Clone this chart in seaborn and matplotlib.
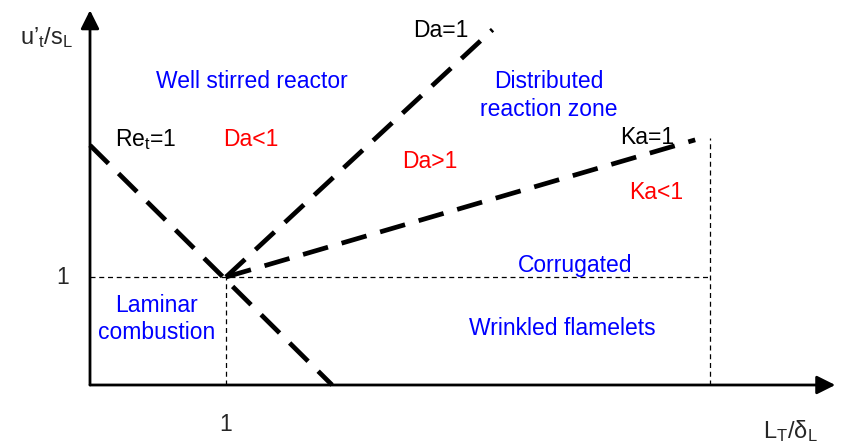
import matplotlib
matplotlib.use("Agg")
import matplotlib.pyplot as plt
import seaborn as sns
import pandas as pd

sns.set_style("white")
plt.rcParams['font.family'] = ['Liberation Sans', 'DejaVu Sans']
plt.rcParams['mathtext.fontset'] = 'custom'
plt.rcParams['mathtext.rm'] = 'Liberation Sans'
plt.rcParams['mathtext.it'] = 'Liberation Sans'

# Regime boundaries (diagram units: x = L_T/delta_L scale, y = u'/s_L scale)
line_names = ["Re_t=1", "Da=1", "Ka=1"]
line_x = [[0.0, 1.78], [1.0, 2.96], [1.0, 4.45]]
line_y = [[2.22, 0.0], [1.0, 3.29], [1.0, 2.27]]

# Thin dashed guides
guide_x = [[0.0, 4.56], [1.0, 1.0], [4.56, 4.56]]
guide_y = [[1.0, 1.0], [0.0, 1.0], [0.0, 2.29]]

# Axis extents
x_end, y_end = 5.48, 3.47

# Labels: text, x, y, colour
labels = [
    ("Well stirred reactor", 1.19, 2.81, "blue"),
    ("Distributed\nreaction zone", 3.37, 2.68, "blue"),
    ("Re$_t$=1", 0.41, 2.27, "black"),
    ("Da<1", 1.18, 2.27, "red"),
    ("Da>1", 2.50, 2.07, "red"),
    ("Da=1", 2.58, 3.28, "black"),
    ("Ka=1", 4.10, 2.29, "black"),
    ("Ka<1", 4.16, 1.78, "red"),
    ("Corrugated", 3.57, 1.11, "blue"),
    ("Laminar\ncombustion", 0.49, 0.61, "blue"),
    ("Wrinkled flamelets", 3.47, 0.52, "blue"),
]

fig = plt.figure(figsize=(8.41, 4.47), dpi=100)
ax = fig.add_axes([0, 0, 1, 1])
ax.set_xlim(-90 / 136, (841 - 90) / 136)
ax.set_ylim((385 - 447) / 108, 385 / 108)
ax.axis("off")

df = pd.DataFrame({
    "x": sum(line_x, []),
    "y": sum(line_y, []),
    "line": [n for n in line_names for _ in range(2)],
})
for name, g in df.groupby("line"):
    ax.plot(g["x"], g["y"], color="black", lw=3.4, linestyle=(0, (5.5, 3.0)),
            solid_capstyle="butt", dash_capstyle="butt")

for gx, gy in zip(guide_x, guide_y):
    ax.plot(gx, gy, color="black", lw=0.9, linestyle=(0, (4, 3)))

ax.annotate("", xy=(x_end, 0), xytext=(0, 0),
            arrowprops=dict(arrowstyle="-|>", lw=2, color="black", mutation_scale=28,
                            shrinkA=0, shrinkB=0))
ax.annotate("", xy=(0, y_end), xytext=(0, 0),
            arrowprops=dict(arrowstyle="-|>", lw=2, color="black", mutation_scale=28,
                            shrinkA=0, shrinkB=0))

for t, x, y, c in labels:
    ax.text(x, y, t, color=c, fontsize=16.5, ha="center", va="center", linespacing=1.25)

ax.text(-0.32, 3.22, "u’$_t$/s$_L$", fontsize=17, ha="center", va="center")
ax.text(-0.20, 1.0, "1", fontsize=16.5, ha="center", va="center")
ax.text(1.0, -0.37, "1", fontsize=16.5, ha="center", va="center")
ax.text(5.15, -0.43, "L$_T$/δ$_L$", fontsize=17, ha="center", va="center")

fig.savefig("out.png", dpi=100)
